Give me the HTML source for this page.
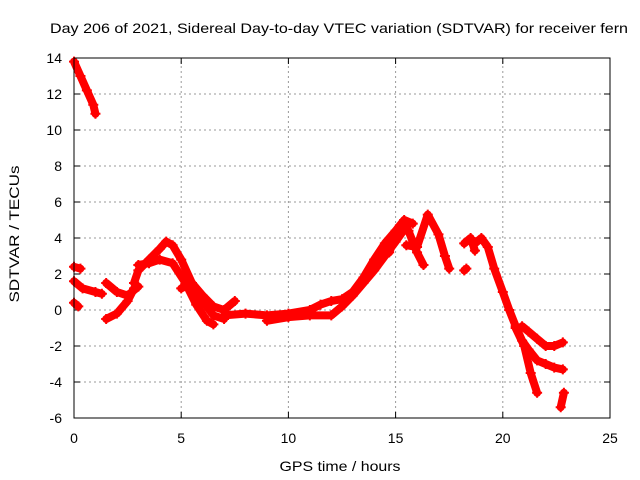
<!DOCTYPE html>
<html><head><meta charset="utf-8"><style>
body{margin:0;background:#fff}
svg{display:block;font-family:"Liberation Sans",sans-serif}
</style></head><body>
<svg id="chart" width="640" height="480">
<text x="339" y="33" text-anchor="middle" font-size="14" textLength="578" lengthAdjust="spacingAndGlyphs">Day 206 of 2021, Sidereal Day-to-day VTEC variation (SDTVAR) for receiver fern</text>
<text x="340" y="471" text-anchor="middle" font-size="14" textLength="121" lengthAdjust="spacingAndGlyphs">GPS time / hours</text>
<text transform="translate(19,234) rotate(-90)" text-anchor="middle" font-size="14" textLength="137" lengthAdjust="spacingAndGlyphs">SDTVAR / TECUs</text>
<g id="grid"></g><g id="marks"></g>
<rect x="74" y="58" width="536" height="360" fill="none" stroke="#000"/>
</svg>
<script>
const xTicks=[0,5,10,15,20,25];
const yTicks=[-6,-4,-2,0,2,4,6,8,10,12,14];
const trackA=[[0,13.8],[0.3,13],[0.6,12.2],[0.9,11.4],[1.0,10.9]];
const trackB=[[0,1.6],[0.4,1.2],[1.0,1.0],[1.3,0.9]];
const trackB2=[[0,2.4],[0.3,2.3]];
const trackB3=[[0,0.4],[0.2,0.2]];
const trackC=[[1.5,-0.5],[2.0,-0.2],[2.5,0.5],[2.8,1.2]];
const trackD=[[1.5,1.5],[2.0,1.0],[2.5,0.8],[3.0,1.3]];
const hump1=[[2.8,1.5],[3.0,2.2],[3.5,2.8],[4.0,3.4],[4.3,3.8],[4.6,3.6],[5.0,2.8],[5.5,1.5],[6.0,0.5],[6.5,-0.3],[7.0,-0.5]];
const hump2=[[3.0,2.5],[3.5,2.6],[4.0,2.8],[4.6,2.6],[5.2,1.5],[5.7,0.3],[6.2,-0.6],[6.5,-0.8]];
const hump3=[[5.0,1.2],[5.5,1.5],[6.0,0.8],[6.5,0.2],[7,0],[7.5,0.5]];
const base=[[7,-0.3],[8,-0.2],[9,-0.3],[10,-0.2],[11,0],[11.5,0.3],[12,0.5],[12.5,0.6],[13,1.0],[13.5,1.8],[14,2.8],[14.5,3.7],[15,4.4],[15.4,5.0],[15.8,4.8]];
const base2=[[9,-0.6],[10,-0.4],[11,-0.3],[12,-0.3],[12.5,0.2],[13,0.8],[13.5,1.5],[14,2.2],[14.5,3],[15,3.8],[15.3,4.3],[15.5,4.6]];
const trackE=[[14,2.6],[14.7,3.2],[15.2,4.7],[15.6,4.4],[16.0,3.2],[16.3,2.5]];
const trackF=[[15.5,3.6],[16,3.5],[16.5,5.3],[17,4.2],[17.3,3.0],[17.5,2.3]];
const trackG=[[18.2,3.7],[18.5,4.0],[18.7,3.3]];
const trackG2=[[18.2,2.2],[18.3,2.3]];
const trackH=[[18.7,3.7],[19,4.0],[19.3,3.5],[19.6,2.3],[20,1.0],[20.3,0],[20.6,-0.9],[20.9,-1.7],[21.2,-2.2],[21.6,-2.8],[22,-3.0],[22.4,-3.2],[22.8,-3.3]];
const trackH2=[[20.6,-1.0],[21,-2.0],[21.3,-3.5],[21.6,-4.6]];
const trackH3=[[20.9,-0.9],[21.2,-1.2],[21.6,-1.6],[22,-2.0],[22.4,-2.0],[22.8,-1.8]];
const trackI=[[22.7,-5.4],[22.85,-4.6]];
const series=[trackA,trackB,trackB2,trackB3,trackC,trackD,hump1,hump2,hump3,base,base2,trackE,trackF,trackG,trackG2,trackH,trackH2,trackH3,trackI];
const X0=74,X1=610,Y0=418,Y1=58;
const sx=v=>X0+(v-0)/(25-0)*(X1-X0);
const sy=v=>Y0-(v+6)/(14+6)*(Y0-Y1);
const NS="http://www.w3.org/2000/svg";
const grid=document.getElementById('grid'),marks=document.getElementById('marks'),svg=document.getElementById('chart');
function mk(t,a,p){const e=document.createElementNS(NS,t);for(const k in a)e.setAttribute(k,a[k]);p.appendChild(e);return e;}
xTicks.forEach(v=>{const x=sx(v);
 if(v>0&&v<25){const g=mk('line',{x1:x,x2:x,y1:Y0,y2:Y1,stroke:'#999','stroke-dasharray':'2,3'},grid);
 
 }
 mk('line',{x1:x,x2:x,y1:Y0,y2:Y0-6,stroke:'#000'},grid);mk('line',{x1:x,x2:x,y1:Y1,y2:Y1+6,stroke:'#000'},grid);
 const t=mk('text',{x:x,y:443,'text-anchor':'middle','font-size':14},svg);t.textContent=v;
 
 });
yTicks.forEach(v=>{const y=sy(v);
 if(v>-6&&v<14){const g=mk('line',{x1:X0,x2:X1,y1:y,y2:y,stroke:'#999','stroke-dasharray':'2,3'},grid);
 
 }
 mk('line',{x1:X0,x2:X0+6,y1:y,y2:y,stroke:'#000'},grid);mk('line',{x1:X1,x2:X1-6,y1:y,y2:y,stroke:'#000'},grid);
 const t=mk('text',{x:62,y:y+5,'text-anchor':'end','font-size':14},svg);t.textContent=v;
 
 });
series.forEach(s=>{
 const pl=mk('polyline',{points:s.map(p=>sx(p[0])+','+sy(p[1])).join(' '),fill:'none',stroke:'#f00','stroke-width':8,'stroke-linejoin':'round','stroke-linecap':'round'},marks);
 
 
 s.forEach(p=>{const x=sx(p[0]),y=sy(p[1]);
  const m=mk('path',{d:`M${x-5},${y}H${x+5}M${x},${y-5}V${y+5}`,stroke:'#f00','stroke-width':2},marks);
  
  });
});
</script>
</body></html>
